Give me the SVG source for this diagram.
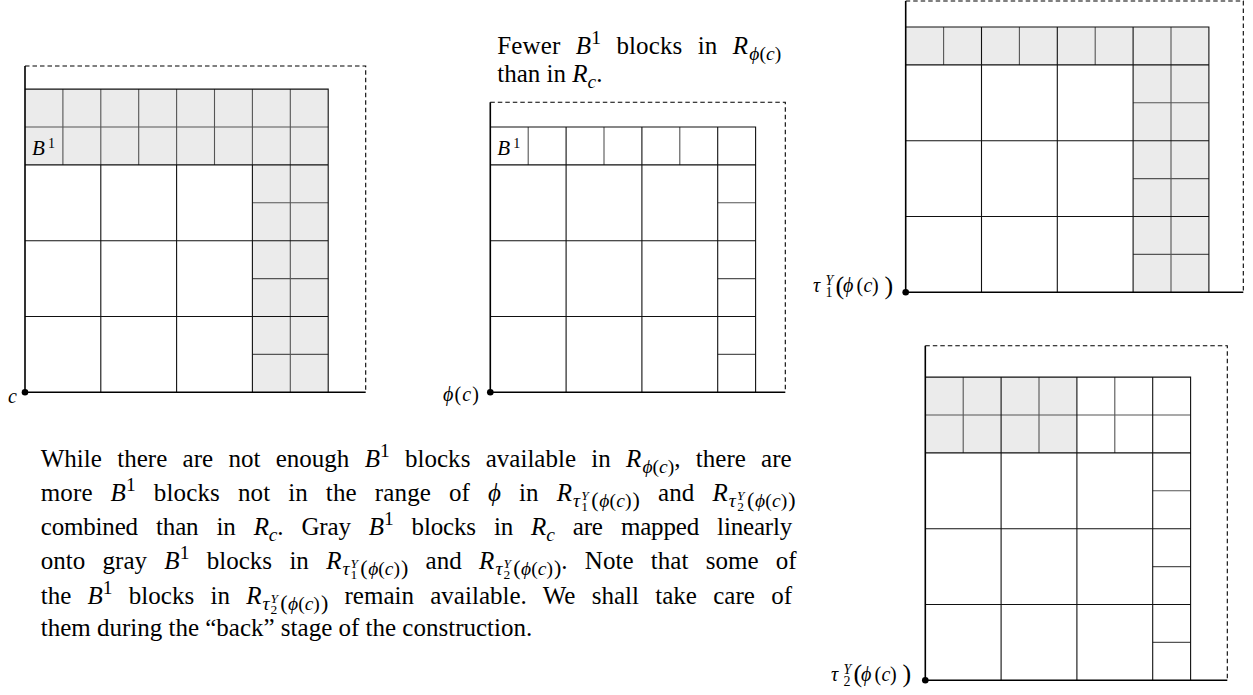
<svg xmlns="http://www.w3.org/2000/svg" width="1253" height="695" viewBox="0 0 1253 695">
<style>
.ax{stroke:#000;stroke-width:1.6;fill:none}
.ds{stroke:#000;stroke-width:1.1;stroke-dasharray:4.5 3;fill:none}
.sc{fill:none;stroke:#555;stroke-width:1.1}
.bb{fill:none;stroke:#111;stroke-width:1.1}
.g{fill:#ebebeb;stroke:none}
.dot{fill:#000}
text{font-family:"Liberation Serif","Times New Roman",serif;fill:#000}
.i{font-style:italic}
.p{font-size:25px}
.s1{font-size:19.5px}
.s1b{font-size:22px}
.s2{font-size:13.5px}
.lb{font-size:20px}
.sm{font-size:14px}
.bg{font-size:26px}
.bl{font-size:21px}
.bs{font-size:14px}
</style>
<rect width="1253" height="695" fill="#fff"/>

<g id="diagram-c" transform="translate(25,89.1)">
<rect class="g" x="0" y="0" width="303.2" height="75.8"/>
<rect class="g" x="227.4" y="75.8" width="75.8" height="227.4"/>
<path class="sc" d="M0 37.9H303.2M37.9 0V75.8M75.8 0V75.8M113.7 0V75.8M151.6 0V75.8M189.5 0V75.8M227.4 0V75.8M265.3 0V303.2M227.4 113.7H303.2M227.4 189.5H303.2M227.4 265.3H303.2"/>
<path class="bb" d="M0 0H303.2V303.2M0 75.8H303.2M0 151.6H303.2M0 227.4H303.2M75.8 75.8V303.2M151.6 75.8V303.2M227.4 75.8V303.2"/>
<path class="ds" d="M0 -23.1H340.7V303.2"/>
<path class="ax" d="M0 -23.1V303.2H340.7"/>
<circle class="dot" cx="0" cy="303.2" r="3.3"/>
<text x="7" y="66.4"><tspan class="bl i">B</tspan><tspan class="bs" x="23" y="59.4">1</tspan></text>
</g>
<text class="lb i" x="8" y="403">c</text>

<g id="diagram-phi" transform="translate(490.3,127)">
<path class="sc" d="M37.9 0V37.9M113.7 0V37.9M189.5 0V37.9M227.4 75.8H265.3M227.4 151.6H265.3M227.4 227.4H265.3"/>
<path class="bb" d="M0 0H265.3V265.3M0 37.9H265.3M0 113.7H265.3M0 189.5H265.3M75.8 0V265.3M151.6 0V265.3M227.4 0V265.3"/>
<path class="ds" d="M0 -24.7H295V265.3"/>
<path class="ax" d="M0 -24.7V265.3H295"/>
<circle class="dot" cx="0" cy="265.3" r="3.3"/>
<text x="7" y="28.4"><tspan class="bl i">B</tspan><tspan class="bs" x="23" y="21.4">1</tspan></text>
</g>
<text class="lb" x="443" y="401" textLength="36" lengthAdjust="spacing"><tspan class="i">ϕ</tspan>(<tspan class="i">c</tspan>)</text>

<g id="diagram-tau1" transform="translate(905.7,27)">
<rect class="g" x="0" y="0" width="303.2" height="37.9"/>
<rect class="g" x="227.4" y="37.9" width="75.8" height="227.4"/>
<path class="sc" d="M37.9 0V37.9M113.7 0V37.9M189.5 0V37.9M265.3 0V265.3M227.4 75.8H303.2M227.4 151.6H303.2M227.4 227.4H303.2"/>
<path class="bb" d="M0 0H303.2V265.3M0 37.9H303.2M0 113.7H303.2M0 189.5H303.2M75.8 0V265.3M151.6 0V265.3M227.4 0V265.3"/>
<path class="ds" d="M0 -26H337.6V265.3"/>
<path class="ax" d="M0 -26V265.3H337.6"/>
<circle class="dot" cx="0" cy="265.3" r="3.3"/>
</g>
<text class="lb" y="292"><tspan class="i" x="813">τ</tspan><tspan class="i sm" x="825.5" y="285">Y</tspan><tspan class="sm" x="825.5" y="297">1</tspan><tspan class="bg" x="835.5" y="293.5">(</tspan><tspan class="i" x="843" y="292">ϕ</tspan><tspan x="856.5">(</tspan><tspan class="i" x="863.5">c</tspan><tspan x="872">)</tspan><tspan class="bg" x="884.5" y="293.5">)</tspan></text>

<g id="diagram-tau2" transform="translate(925.3,377.1)">
<rect class="g" x="0" y="0" width="151.6" height="75.8"/>
<path class="sc" d="M0 37.9H265.3M37.9 0V75.8M113.7 0V75.8M189.5 0V75.8M227.4 113.7H265.3M227.4 189.5H265.3M227.4 265.3H265.3"/>
<path class="bb" d="M0 0H265.3V303.2M0 75.8H265.3M0 151.6H265.3M0 227.4H265.3M75.8 0V303.2M151.6 0V303.2M227.4 0V303.2"/>
<path class="ds" d="M0 -31.4H302V303.2"/>
<path class="ax" d="M0 -31.4V303.2H302"/>
<circle class="dot" cx="0" cy="303.2" r="3.3"/>
</g>
<text class="lb" y="680.5" transform="translate(18,0)"><tspan class="i" x="813">τ</tspan><tspan class="i sm" x="825.5" y="673.5">Y</tspan><tspan class="sm" x="825.5" y="685.5">2</tspan><tspan class="bg" x="835.5" y="682">(</tspan><tspan class="i" x="843" y="680.5">ϕ</tspan><tspan x="856.5">(</tspan><tspan class="i" x="863.5">c</tspan><tspan x="872">)</tspan><tspan class="bg" x="884.5" y="682">)</tspan></text>

<g id="connectors"></g>

<g id="caption">
<text class="p" x="497.3" y="54.3" word-spacing="9" textLength="284" lengthAdjust="spacing">Fewer <tspan class="i">B</tspan><tspan class="s1" dy="-10">1</tspan><tspan dy="10"> blocks in </tspan><tspan class="i">R</tspan><tspan class="s1 i" dx="1" dy="6">ϕ</tspan><tspan class="s1">(</tspan><tspan class="s1 i">c</tspan><tspan class="s1">)</tspan></text>
<text class="p" x="497.3" y="82.3">than in <tspan class="i">R</tspan><tspan class="s1 i" dy="6">c</tspan><tspan dy="-6">.</tspan></text>
</g>

<g id="paragraph">
<text class="p" x="40.7" y="467" word-spacing="9" textLength="751" lengthAdjust="spacing">While there are not enough <tspan class="i">B</tspan><tspan class="s1" dy="-10">1</tspan><tspan dy="10"> blocks available in </tspan><tspan class="i">R</tspan><tspan class="s1 i" dx="1" dy="6">ϕ</tspan><tspan class="s1">(</tspan><tspan class="s1 i">c</tspan><tspan class="s1">)</tspan><tspan dy="-6">, there are</tspan></text>
<text class="p" x="40.7" y="501" word-spacing="11.5" textLength="755" lengthAdjust="spacing">more <tspan class="i">B</tspan><tspan class="s1" dy="-10">1</tspan><tspan dy="10"> blocks not in the range of </tspan><tspan class="i">ϕ</tspan> in <tspan class="i">R</tspan><tspan class="i s1" dx="1" dy="6">τ</tspan><tspan class="i s2" dx="1" dy="-7">Y</tspan><tspan class="s2" dx="-7.5" dy="11">1</tspan><tspan class="s1b" dx="3" dy="-4">(</tspan><tspan class="i s1" dx="0.5">ϕ</tspan><tspan class="s1">(</tspan><tspan class="i s1">c</tspan><tspan class="s1">)</tspan><tspan class="s1b" dx="1">)</tspan><tspan dy="-6"> and </tspan><tspan class="i">R</tspan><tspan class="i s1" dx="1" dy="6">τ</tspan><tspan class="i s2" dx="1" dy="-7">Y</tspan><tspan class="s2" dx="-7.5" dy="11">2</tspan><tspan class="s1b" dx="3" dy="-4">(</tspan><tspan class="i s1" dx="0.5">ϕ</tspan><tspan class="s1">(</tspan><tspan class="i s1">c</tspan><tspan class="s1">)</tspan><tspan class="s1b" dx="1">)</tspan></text>
<text class="p" x="40.7" y="535" word-spacing="12" textLength="751.6" lengthAdjust="spacing">combined than in <tspan class="i">R</tspan><tspan class="i s1" dy="6">c</tspan><tspan dy="-6">. Gray </tspan><tspan class="i">B</tspan><tspan class="s1" dy="-10">1</tspan><tspan dy="10"> blocks in </tspan><tspan class="i">R</tspan><tspan class="i s1" dy="6">c</tspan><tspan dy="-6"> are mapped linearly</tspan></text>
<text class="p" x="40.7" y="569" word-spacing="11" textLength="756" lengthAdjust="spacing">onto gray <tspan class="i">B</tspan><tspan class="s1" dy="-10">1</tspan><tspan dy="10"> blocks in </tspan><tspan class="i">R</tspan><tspan class="i s1" dx="1" dy="6">τ</tspan><tspan class="i s2" dx="1" dy="-7">Y</tspan><tspan class="s2" dx="-7.5" dy="11">1</tspan><tspan class="s1b" dx="3" dy="-4">(</tspan><tspan class="i s1" dx="0.5">ϕ</tspan><tspan class="s1">(</tspan><tspan class="i s1">c</tspan><tspan class="s1">)</tspan><tspan class="s1b" dx="1">)</tspan><tspan dy="-6"> and </tspan><tspan class="i">R</tspan><tspan class="i s1" dx="1" dy="6">τ</tspan><tspan class="i s2" dx="1" dy="-7">Y</tspan><tspan class="s2" dx="-7.5" dy="11">2</tspan><tspan class="s1b" dx="3" dy="-4">(</tspan><tspan class="i s1" dx="0.5">ϕ</tspan><tspan class="s1">(</tspan><tspan class="i s1">c</tspan><tspan class="s1">)</tspan><tspan class="s1b" dx="1">)</tspan><tspan dy="-6">. Note that some of</tspan></text>
<text class="p" x="40.7" y="604" word-spacing="10" textLength="751.3" lengthAdjust="spacing">the <tspan class="i">B</tspan><tspan class="s1" dy="-10">1</tspan><tspan dy="10"> blocks in </tspan><tspan class="i">R</tspan><tspan class="i s1" dx="1" dy="6">τ</tspan><tspan class="i s2" dx="1" dy="-7">Y</tspan><tspan class="s2" dx="-7.5" dy="11">2</tspan><tspan class="s1b" dx="3" dy="-4">(</tspan><tspan class="i s1" dx="0.5">ϕ</tspan><tspan class="s1">(</tspan><tspan class="i s1">c</tspan><tspan class="s1">)</tspan><tspan class="s1b" dx="1">)</tspan><tspan dy="-6"> remain available. We shall take care of</tspan></text>
<text class="p" x="40.7" y="636">them during the “back” stage of the construction.</text>
</g>
</svg>
